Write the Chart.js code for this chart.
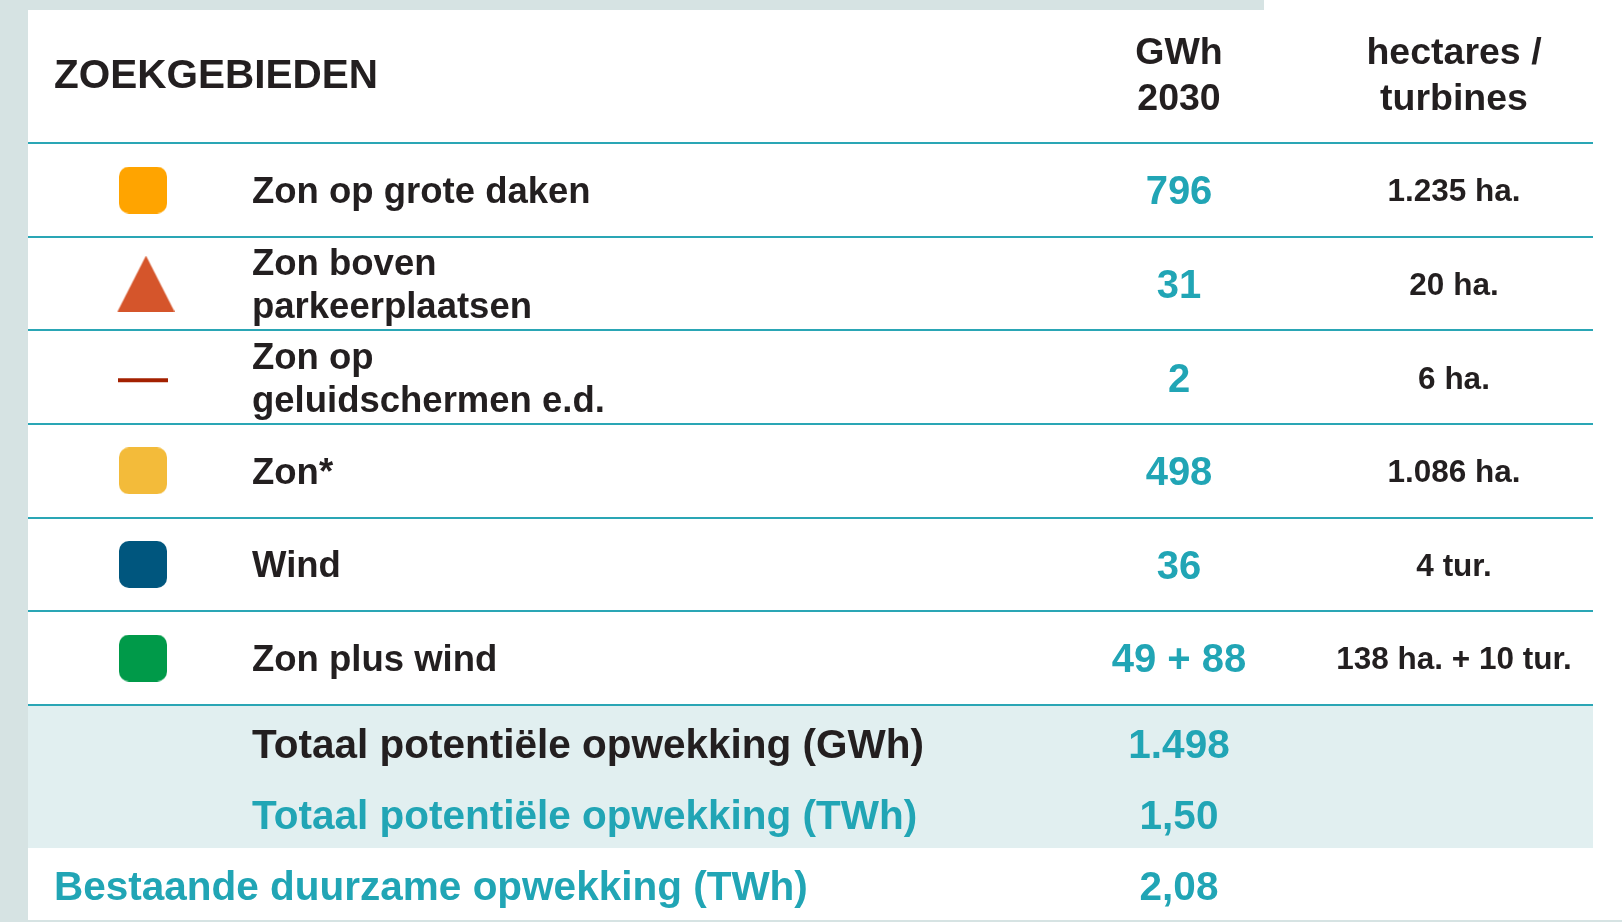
<!DOCTYPE html>
<html>
<head>
<meta charset="utf-8">
<script src="https://cdn.jsdelivr.net/npm/chart.js@4.4.1/dist/chart.umd.min.js"></script>
<style>
  html, body { margin: 0; padding: 0; background: #d6e3e3; }
  #wrap { width: 1622px; height: 922px; }
</style>
</head>
<body>
<div id="wrap"><canvas id="c" width="1622" height="922"></canvas></div>
<script>
// ---------- data ----------
const CATEGORIES = [
  ['Zon op grote daken'],
  ['Zon boven', 'parkeerplaatsen'],
  ['Zon op', 'geluidschermen e.d.'],
  ['Zon*'],
  ['Wind'],
  ['Zon plus wind']
];
const GWH_2030 = ['796', '31', '2', '498', '36', '49 + 88'];
const AREA_TURBINES = ['1.235 ha.', '20 ha.', '6 ha.', '1.086 ha.', '4 tur.', '138 ha. + 10 tur.'];
const ICON_SHAPES = ['square', 'triangle', 'line', 'square', 'square', 'square'];
const ICON_COLORS = ['#ffa400', '#d5552b', '#a32000', '#f3bb3a', '#00567e', '#009a49'];
const HEADER_TITLE = 'ZOEKGEBIEDEN';
const HEADER_COLS = [['GWh', '2030'], ['hectares /', 'turbines']];
const TOTAL_LABELS = ['Totaal potentiële opwekking (GWh)', 'Totaal potentiële opwekking (TWh)', 'Bestaande duurzame opwekking (TWh)'];
const TOTAL_VALUES = ['1.498', '1,50', '2,08'];

// ---------- layout (row units on y, pixels on x) ----------
const COL = { icon: 143, label: 252, gwh: 1179, ha: 1454, left: 28, right: 1593, title: 54 };
const Y_MIN = -2.03, Y_MAX = 7.82;
const HEADER_Y = { title: -1.25, line1: -1.485, line2: -0.994 };
const TOTAL_Y = [5.91, 6.67, 7.43];
const BAND = [5.5, 7.03];
const LINE_SPACING = 0.46;

const TEAL = '#21a5b5';
const DARK = '#231f20';
const FONT = '"Liberation Sans", Arial, Helvetica, sans-serif';

function makeIcon(shape, color) {
  const c = document.createElement('canvas');
  const g = c.getContext('2d');
  g.fillStyle = color;
  if (shape === 'square') {
    c.width = 48; c.height = 47;
    g.fillStyle = color;
    g.beginPath(); g.roundRect(0, 0, 48, 47, 10); g.fill();
  } else if (shape === 'triangle') {
    c.width = 63; c.height = 56;
    g.fillStyle = color;
    g.beginPath(); g.moveTo(34.5, 0); g.lineTo(63, 56); g.lineTo(6, 56); g.closePath(); g.fill();
  } else {
    c.width = 50; c.height = 12;
    g.fillStyle = color;
    g.fillRect(0, 7, 50, 4);
  }
  return c;
}
const ICONS = ICON_SHAPES.map((s, i) => makeIcon(s, ICON_COLORS[i]));

function text(ctx, str, px, py, size) {
  // vertically centre the capital letters on py
  ctx.font = 'bold ' + size + 'px ' + FONT;
  ctx.fillText(str, px, py + size * 0.358);
}

const tablePlugin = {
  id: 'tablePlugin',
  beforeDraw(chart) {
    const { ctx, scales: { x, y } } = chart;
    ctx.save();
    ctx.fillStyle = '#d6e3e3';
    ctx.fillRect(0, 0, chart.width, chart.height);
    ctx.fillStyle = '#ffffff';
    ctx.fillRect(x.getPixelForValue(COL.left), 10, chart.width, 910);
    ctx.fillRect(1264, 0, chart.width, 10);
    // summary band
    ctx.fillStyle = '#e1eff0';
    const b0 = y.getPixelForValue(BAND[0]), b1 = y.getPixelForValue(BAND[1]);
    ctx.fillRect(x.getPixelForValue(COL.left), b0, x.getPixelForValue(COL.right) - x.getPixelForValue(COL.left), b1 - b0);
    // row separators
    ctx.strokeStyle = '#2aa6b5';
    ctx.lineWidth = 2;
    for (let i = -1; i < CATEGORIES.length; i++) {
      const py = Math.round(y.getPixelForValue(i + 0.5));
      ctx.beginPath();
      ctx.moveTo(x.getPixelForValue(COL.left), py);
      ctx.lineTo(x.getPixelForValue(COL.right), py);
      ctx.stroke();
    }
    ctx.restore();
  },
  afterDatasetsDraw(chart) {
    const { ctx, scales: { x, y } } = chart;
    ctx.save();
    ctx.textBaseline = 'alphabetic';
    // header
    ctx.fillStyle = DARK;
    ctx.textAlign = 'left';
    text(ctx, HEADER_TITLE, x.getPixelForValue(COL.title), y.getPixelForValue(HEADER_Y.title), 40.5);
    ctx.textAlign = 'center';
    [COL.gwh, COL.ha].forEach((cx, k) => {
      text(ctx, HEADER_COLS[k][0], x.getPixelForValue(cx), y.getPixelForValue(HEADER_Y.line1), 37.5);
      text(ctx, HEADER_COLS[k][1], x.getPixelForValue(cx), y.getPixelForValue(HEADER_Y.line2), 37.5);
    });
    // rows
    CATEGORIES.forEach((lines, i) => {
      ctx.fillStyle = DARK;
      ctx.textAlign = 'left';
      const n = lines.length;
      lines.forEach((t, k) => {
        const yy = i + (k - (n - 1) / 2) * LINE_SPACING;
        text(ctx, t, x.getPixelForValue(COL.label), y.getPixelForValue(yy), 36.5);
      });
      ctx.textAlign = 'center';
      ctx.fillStyle = TEAL;
      text(ctx, GWH_2030[i], x.getPixelForValue(COL.gwh), y.getPixelForValue(i), 40);
      ctx.fillStyle = DARK;
      text(ctx, AREA_TURBINES[i], x.getPixelForValue(COL.ha), y.getPixelForValue(i), 31.5);
    });
    // totals
    TOTAL_LABELS.forEach((t, k) => {
      ctx.textAlign = 'left';
      ctx.fillStyle = k === 0 ? DARK : TEAL;
      const lx = k === 2 ? COL.title : COL.label;
      text(ctx, t, x.getPixelForValue(lx), y.getPixelForValue(TOTAL_Y[k]), 40.5);
      ctx.textAlign = 'center';
      ctx.fillStyle = TEAL;
      text(ctx, TOTAL_VALUES[k], x.getPixelForValue(COL.gwh), y.getPixelForValue(TOTAL_Y[k]), 40.5);
    });
    ctx.restore();
  }
};

new Chart(document.getElementById('c'), {
  type: 'scatter',
  data: {
    datasets: [{
      label: 'Zoekgebieden',
      data: CATEGORIES.map((_, i) => ({ x: COL.icon, y: i })),
      pointStyle: ICONS,
      backgroundColor: ICON_COLORS,
      borderWidth: 0,
      pointRadius: 24,
      pointHoverRadius: 24,
      clip: false
    }]
  },
  options: {
    responsive: false,
    animation: false,
    events: [],
    layout: { padding: 0, autoPadding: false },
    plugins: { legend: { display: false }, tooltip: { enabled: false } },
    scales: {
      x: { type: 'linear', min: 0, max: 1622, display: false },
      y: { type: 'linear', min: Y_MIN, max: Y_MAX, reverse: true, display: false }
    }
  },
  plugins: [tablePlugin]
});
</script>
</body>
</html>
